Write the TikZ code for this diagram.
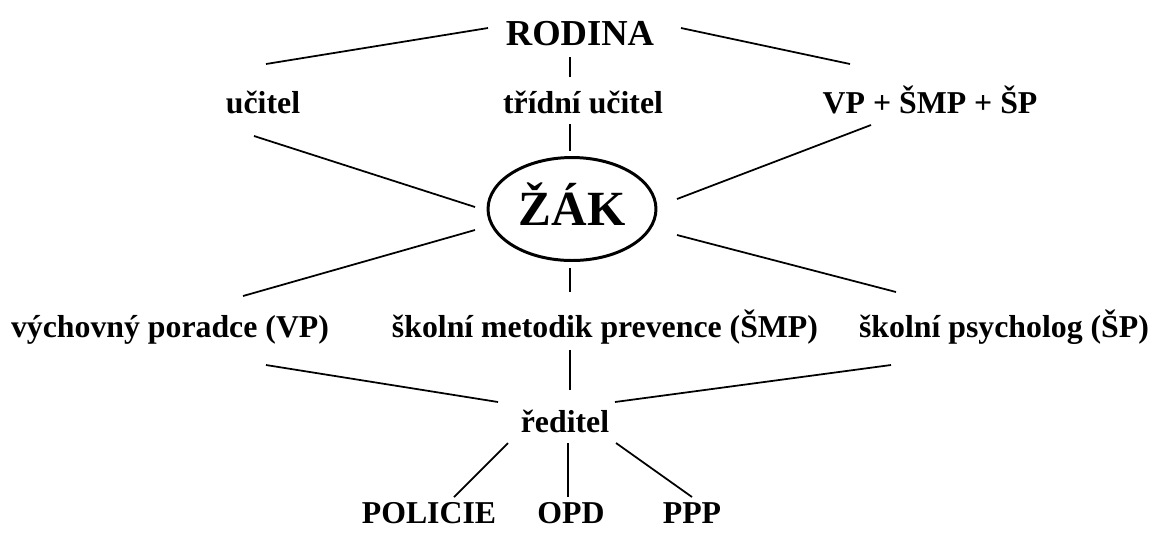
\documentclass[tikz,border=0pt]{standalone}
\usepackage{fontspec}
\setmainfont{Liberation Serif}
\usepackage{tikz}
\usetikzlibrary{shapes.geometric}

\begin{document}
\begin{tikzpicture}[
  x=0.02cm, y=-0.02cm,
  lbl/.style={anchor=base, inner sep=0pt, font=\fontsize{18.1}{22}\selectfont\bfseries},
  head/.style={anchor=base, inner sep=0pt, font=\fontsize{20.8}{25}\selectfont\bfseries},
  zakbox/.style={ellipse, draw, line width=1.7pt, minimum width=3.36cm, minimum height=2.06cm, inner sep=0pt, text height=0.64cm, text depth=0pt, font=\fontsize{28}{32}\selectfont\bfseries},
  link/.style={line width=1pt}
]
  \useasboundingbox (0,0) rectangle (1155,532);

  \node[head] (rodina) at (580,45) {RODINA};
  \node[lbl] (ucitel) at (263,113) {učitel};
  \node[lbl] (tridni) at (583,113) {třídní učitel};
  \node[lbl] (vsp) at (930,113) {VP + ŠMP + ŠP};
  \node[zakbox] (zak) at (572,209) {ŽÁK};
  \node[lbl] (vp) at (170,337) {výchovný poradce (VP)};
  \node[lbl] (smp) at (605,337) {školní metodik prevence (ŠMP)};
  \node[lbl] (sp) at (1004,337) {školní psycholog (ŠP)};
  \node[lbl] (reditel) at (565,432) {ředitel};
  \node[lbl] (policie) at (429,523) {POLICIE};
  \node[lbl] (opd) at (571,523) {OPD};
  \node[lbl] (ppp) at (692,523) {PPP};

  \draw[link] ([shift={(-92,-17)}]rodina.base) -- ([shift={(3,-49)}]ucitel.base);
  \draw[link] ([shift={(-10,12)}]rodina.base) -- ([shift={(-13,-36)}]tridni.base);
  \draw[link] ([shift={(101,-17)}]rodina.base) -- ([shift={(-80,-49)}]vsp.base);

  \draw[link] ([shift={(-9,23)}]ucitel.base) -- ([shift={(-97,-2)}]zak.center);
  \draw[link] ([shift={(-13,11)}]tridni.base) -- ([shift={(-2,-58)}]zak.center);
  \draw[link] ([shift={(-59,12)}]vsp.base) -- ([shift={(105,-10)}]zak.center);

  \draw[link] ([shift={(-97,21)}]zak.center) -- ([shift={(73,-41)}]vp.base);
  \draw[link] ([shift={(-2,59)}]zak.center) -- ([shift={(-35,-45)}]smp.base);
  \draw[link] ([shift={(105,26)}]zak.center) -- ([shift={(-108,-45)}]sp.base);

  \draw[link] ([shift={(96,28)}]vp.base) -- ([shift={(-67,-30)}]reditel.base);
  \draw[link] ([shift={(-35,13)}]smp.base) -- ([shift={(5,-42)}]reditel.base);
  \draw[link] ([shift={(-113,28)}]sp.base) -- ([shift={(50,-30)}]reditel.base);

  \draw[link] ([shift={(-57,11)}]reditel.base) -- ([shift={(25,-26)}]policie.base);
  \draw[link] ([shift={(3,11)}]reditel.base) -- ([shift={(-3,-26)}]opd.base);
  \draw[link] ([shift={(51,11)}]reditel.base) -- ([shift={(0,-26)}]ppp.base);
\end{tikzpicture}
\end{document}
